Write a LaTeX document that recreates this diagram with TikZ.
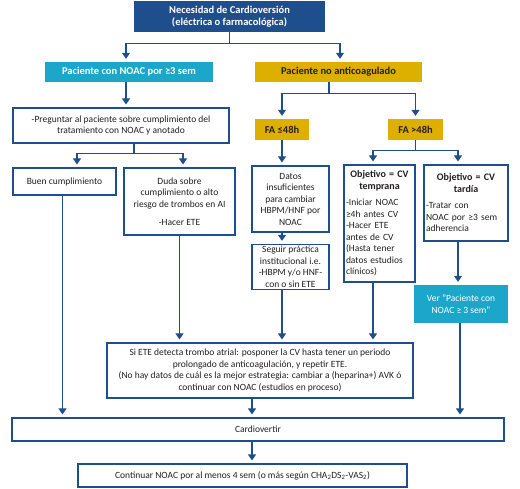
\documentclass[tikz,border=0pt]{standalone}
\usepackage{fontspec}
\setmainfont{Carlito}
\usetikzlibrary{arrows.meta}
\definecolor{azul}{HTML}{1F4E8C}
\definecolor{celeste}{HTML}{1BA6CA}
\definecolor{oro}{HTML}{DDB000}
\definecolor{texto}{HTML}{231F20}

\begin{document}
\begin{tikzpicture}[x=1pt,y=-1pt,
	font=\fontsize{9.5}{11.5}\selectfont,
	box/.style={
		draw=azul,
		line width=1.1pt,
		text=texto,
		align=center,
		inner sep=2pt
	},
	cbox/.style={fill=celeste, text=white, align=center, inner sep=2pt},
	gbox/.style={fill=oro, text=texto, align=center, inner sep=2pt,
		font=\fontsize{10.5}{12}\selectfont\bfseries},
	linea/.style={draw=azul, line width=1.1pt},
	flecha/.style={draw=azul, line width=1.1pt,
		-{Triangle[width=8pt,length=6pt]}, shorten >=3pt}
	]
	\useasboundingbox (0,0) rectangle (520,489);
	
	%Cabecera
	\node[fill=azul, text=white, align=center,
	font=\fontsize{10.5}{12}\selectfont\bfseries,
	minimum width=191, minimum height=31] (top) at (229.5,16.5)
	{Necesidad de Cardioversión\\(eléctrica o farmacológica)};
	
	\node[cbox, font=\fontsize{10.5}{12}\selectfont\bfseries,
	minimum width=168, minimum height=20] (noac) at (129,72)
	{Paciente con NOAC por ≥3 sem};
	\node[gbox, minimum width=167, minimum height=20] (noanti) at (338.5,72)
	{Paciente no anticoagulado};
	
	%Rama izquierda
	\node[box, minimum width=216, minimum height=35] (preg) at (121,125.5)
	{-Preguntar al paciente sobre cumplimiento del\\tratamiento con NOAC y anotado};
	\node[box, minimum width=103, minimum height=27] (buen) at (64.5,181.5)
	{Buen cumplimiento};
	\node[box, minimum width=111, minimum height=67] (duda) at (179.5,201.5)
	{Duda sobre\\cumplimiento o alto\\riesgo de trombos en AI\\[7pt]-Hacer ETE};
	
	%Rama derecha
	\node[gbox, minimum width=54, minimum height=21] (fa1) at (282,129.5) {FA ≤48h};
	\node[gbox, minimum width=55, minimum height=21] (fa2) at (415.5,129.5) {FA >48h};
	
	\node[box, minimum width=77, minimum height=66] (datos) at (290.5,199)
	{Datos\\insuficientes\\para cambiar\\HBPM/HNF por\\NOAC};
	\node[box, minimum width=77, minimum height=40] (seguir) at (290.5,267)
	{Seguir práctica\\institucional i.e.\\-HBPM y/o HNF-\\con o sin ETE};
	
	\node[box, align=left, text width=67, minimum height=117] (temp) at (379.5,223.5)
	{{\centering\fontsize{10}{11.5}\selectfont\bfseries Objetivo = CV\\temprana\par}\vspace{5pt}%
		\raggedright -Iniciar NOAC\\≥4h antes CV\\-Hacer ETE\\antes de CV\\(Hasta tener\\datos estudios\\clínicos)};
	\node[box, align=left, text width=80, minimum height=76] (tard) at (466,203)
	{{\centering\fontsize{10}{11.5}\selectfont\bfseries Objetivo = CV\\tardía\par}\vspace{5pt}%
		\raggedright -Tratar con\\NOAC por ≥3 sem\\adherencia};
	\node[cbox, minimum width=94, minimum height=38] (ver) at (461,304)
	{Ver "Paciente con\\NOAC ≥ 3 sem"};
	
	%Parte comun
	\node[box, minimum width=306, minimum height=55] (siete) at (260,370.5)
	{Si ETE detecta trombo atrial: posponer la CV hasta tener un periodo\\
		prolongado de anticoagulación, y repetir ETE.\\
		(No hay datos de cuál es la mejor estrategia: cambiar a (heparina+) AVK ó\\
		continuar con NOAC (estudios en proceso)};
	\node[box, minimum width=492, minimum height=23] (cardio) at (258,429.5)
	{Cardiovertir};
	\node[box, minimum width=329, minimum height=23] (cont) at (242.5,475.5)
	{Continuar NOAC por al menos 4 sem (o más según
		CHA\textsubscript{2}DS\textsubscript{2}-VAS\textsubscript{2})};
	
	%Flechas
	\draw[linea] (top.south) -- ++(0,11) coordinate (j1);
	\draw[flecha] (j1) -| ([xshift=-3]noac.north);
	\draw[flecha] (j1) -| ([xshift=1.5]noanti.north);
	
	\draw[flecha] ([xshift=-3]noac.south) -- ([xshift=-3]noac.south |- preg.north);
	\draw[linea] ([xshift=13]preg.south) -- ++(0,10) coordinate (j2);
	\draw[flecha] (j2) -| ([xshift=12.5]buen.north);
	\draw[flecha] (j2) -| ([xshift=3.5]duda.north);
	
	\draw[linea] ([xshift=-9.5]noanti.south) -- ++(0,11) coordinate (j3);
	\draw[flecha] (j3) -| (fa1.north);
	\draw[flecha] (j3) -| (fa2.north);
	
	\draw[flecha] (fa1.south) -- (fa1.south |- datos.north);
	\draw[flecha] (fa1.south |- datos.south) -- (fa1.south |- seguir.north);
	\draw[flecha] (fa1.south |- seguir.south) -- (fa1.south |- siete.north);
	
	\draw[linea] (fa2.south) -- ++(0,10) coordinate (j4);
	\draw[flecha] (j4) -| ([xshift=-6.5]temp.north);
	\draw[flecha] (j4) -| ([xshift=-8]tard.north);
	\draw[flecha] ([xshift=-8]tard.south) -- ([xshift=-8]tard.south |- ver.north);
	\draw[flecha] ([xshift=-1]ver.south) -- ([xshift=-1]ver.south |- cardio.north);
	\draw[flecha] ([xshift=-6.5]temp.south) -- ([xshift=-6.5]temp.south |- siete.north);
	
	\draw[flecha] (duda.south) -- (duda.south |- siete.north);
	\draw[flecha] ([xshift=-2]buen.south) -- ([xshift=-2]buen.south |- cardio.north);
	\draw[flecha] ([xshift=-8]siete.south) -- ([xshift=-8]siete.south |- cardio.north);
	\draw[flecha] ([xshift=-6]cardio.south) -- ([xshift=-6]cardio.south |- cont.north);
	
\end{tikzpicture}
\end{document}
